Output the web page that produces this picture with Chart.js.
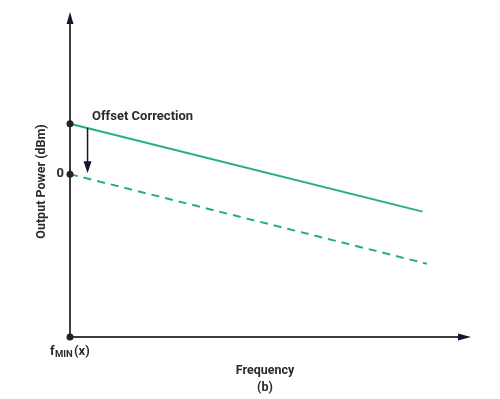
<!DOCTYPE html>
<html>
<head>
<meta charset="utf-8">
<script src="https://cdn.jsdelivr.net/npm/chart.js@4"></script>
<style>
  html, body { margin: 0; padding: 0; background: #fff; }
  #wrap { width: 500px; height: 399px; }
</style>
</head>
<body>
<div id="wrap"><canvas id="chart"></canvas></div>
<script>
// data (arbitrary units, 0 = corrected level)
const freq = [0, 90.4];
const freqDashed = [0, 91.5];
const powerMeasured = [3.1, -2.3];
const powerCorrected = [0, -5.5];
const yTicks = [0];
const yMin = -10, yMax = 9.1;
const offsetArrow = { x: 4.5, from: 2.85, to: 0.05 };

const green = '#25ad84';
const axisColor = '#3d3d3d';
const dark = '#222';
const textColor = '#2b2b2b';

// axes with arrow heads, offset arrow, labels
const decoPlugin = {
    id: 'deco',
    beforeDatasetsDraw(chart) {
        const {ctx, chartArea: a} = chart;
        ctx.save();
        ctx.strokeStyle = axisColor;
        ctx.fillStyle = '#15162e';
        ctx.lineWidth = 2;
        ctx.beginPath();
        ctx.moveTo(a.left, a.bottom);
        ctx.lineTo(a.left, 20);
        ctx.moveTo(a.left, a.bottom);
        ctx.lineTo(462, a.bottom);
        ctx.stroke();
        // y arrow
        ctx.beginPath();
        ctx.moveTo(a.left, 12);
        ctx.lineTo(a.left - 3.5, 24);
        ctx.lineTo(a.left + 3.5, 24);
        ctx.closePath();
        ctx.fill();
        // x arrow
        ctx.beginPath();
        ctx.moveTo(471, a.bottom);
        ctx.lineTo(458, a.bottom - 3.5);
        ctx.lineTo(458, a.bottom + 3.5);
        ctx.closePath();
        ctx.fill();
        ctx.restore();
    },
    afterDatasetsDraw(chart) {
        const {ctx, chartArea: a, scales: {x, y}} = chart;
        ctx.save();
        // offset correction arrow
        const ax = x.getPixelForValue(offsetArrow.x);
        const y1 = y.getPixelForValue(offsetArrow.from);
        const y2 = y.getPixelForValue(offsetArrow.to);
        ctx.strokeStyle = '#15162e';
        ctx.fillStyle = '#15162e';
        ctx.lineWidth = 1.5;
        ctx.beginPath();
        ctx.moveTo(ax, y1);
        ctx.lineTo(ax, y2 - 10);
        ctx.stroke();
        ctx.beginPath();
        ctx.moveTo(ax, y2);
        ctx.lineTo(ax - 4, y2 - 12);
        ctx.lineTo(ax + 4, y2 - 12);
        ctx.closePath();
        ctx.fill();

        ctx.fillStyle = textColor;
        ctx.textBaseline = 'middle';
        ctx.textAlign = 'left';
        ctx.font = 'bold 13px Roboto';
        ctx.fillText('Offset Correction', 92, 117);

        // f_MIN (x) under the origin
        const oy = a.bottom + 15;
        ctx.font = 'bold 13px Roboto';
        ctx.fillText('f', 50, oy);
        ctx.font = 'bold 9.5px Roboto';
        ctx.fillText('MIN', 55, oy + 3);
        ctx.font = 'bold 13px Roboto';
        ctx.fillText('(x)', 74, oy);
        ctx.restore();
    }
};

new Chart(document.getElementById('chart'), {
    type: 'line',
    data: {
        datasets: [{
            data: freq.map((f, i) => ({x: f, y: powerMeasured[i]})),
            borderColor: green,
            borderWidth: 2,
            pointRadius: [3.5, 0],
            pointBackgroundColor: dark,
            pointBorderWidth: 0,
            clip: false
        }, {
            data: freqDashed.map((f, i) => ({x: f, y: powerCorrected[i]})),
            borderColor: green,
            borderWidth: 2,
            borderDash: [8, 6],
            pointRadius: [3.5, 0],
            pointBackgroundColor: dark,
            pointBorderWidth: 0,
            clip: false
        }, {
            data: [{x: 0, y: yMin}],
            showLine: false,
            pointRadius: 3.5,
            pointBackgroundColor: dark,
            pointBorderWidth: 0,
            clip: false
        }]
    },
    options: {
        responsive: true,
        maintainAspectRatio: false,
        animation: false,
        layout: { padding: { top: 26, right: 40, left: 0, bottom: 0 } },
        plugins: { legend: { display: false }, tooltip: { enabled: false } },
        scales: {
            x: {
                type: 'linear',
                min: 0,
                max: 100,
                grid: { display: false },
                border: { display: false },
                ticks: { display: false },
                afterFit(scale) { scale.height = 62; },
                title: {
                    display: true,
                    text: ['Frequency', '(b)'],
                    color: textColor,
                    font: { family: 'Roboto', weight: 'bold', size: 12.5, lineHeight: 1.36 },
                    padding: { top: 0, bottom: 2.5 }
                }
            },
            y: {
                type: 'linear',
                min: yMin,
                max: yMax,
                grid: { display: false, drawTicks: false, tickLength: 0 },
                border: { display: false },
                afterBuildTicks(scale) { scale.ticks = yTicks.map(v => ({value: v})); },
                afterFit(scale) { scale.width = 70; },
                ticks: {
                    padding: 6,
                    color: textColor,
                    font: { family: 'Roboto', weight: 'bold', size: 13 }
                },
                title: {
                    display: true,
                    text: 'Output Power (dBm)',
                    color: textColor,
                    font: { family: 'Roboto', weight: 'bold', size: 12.5, lineHeight: 1.2 },
                    padding: { top: 34, bottom: 0 }
                }
            }
        }
    },
    plugins: [decoPlugin]
});
</script>
</body>
</html>
